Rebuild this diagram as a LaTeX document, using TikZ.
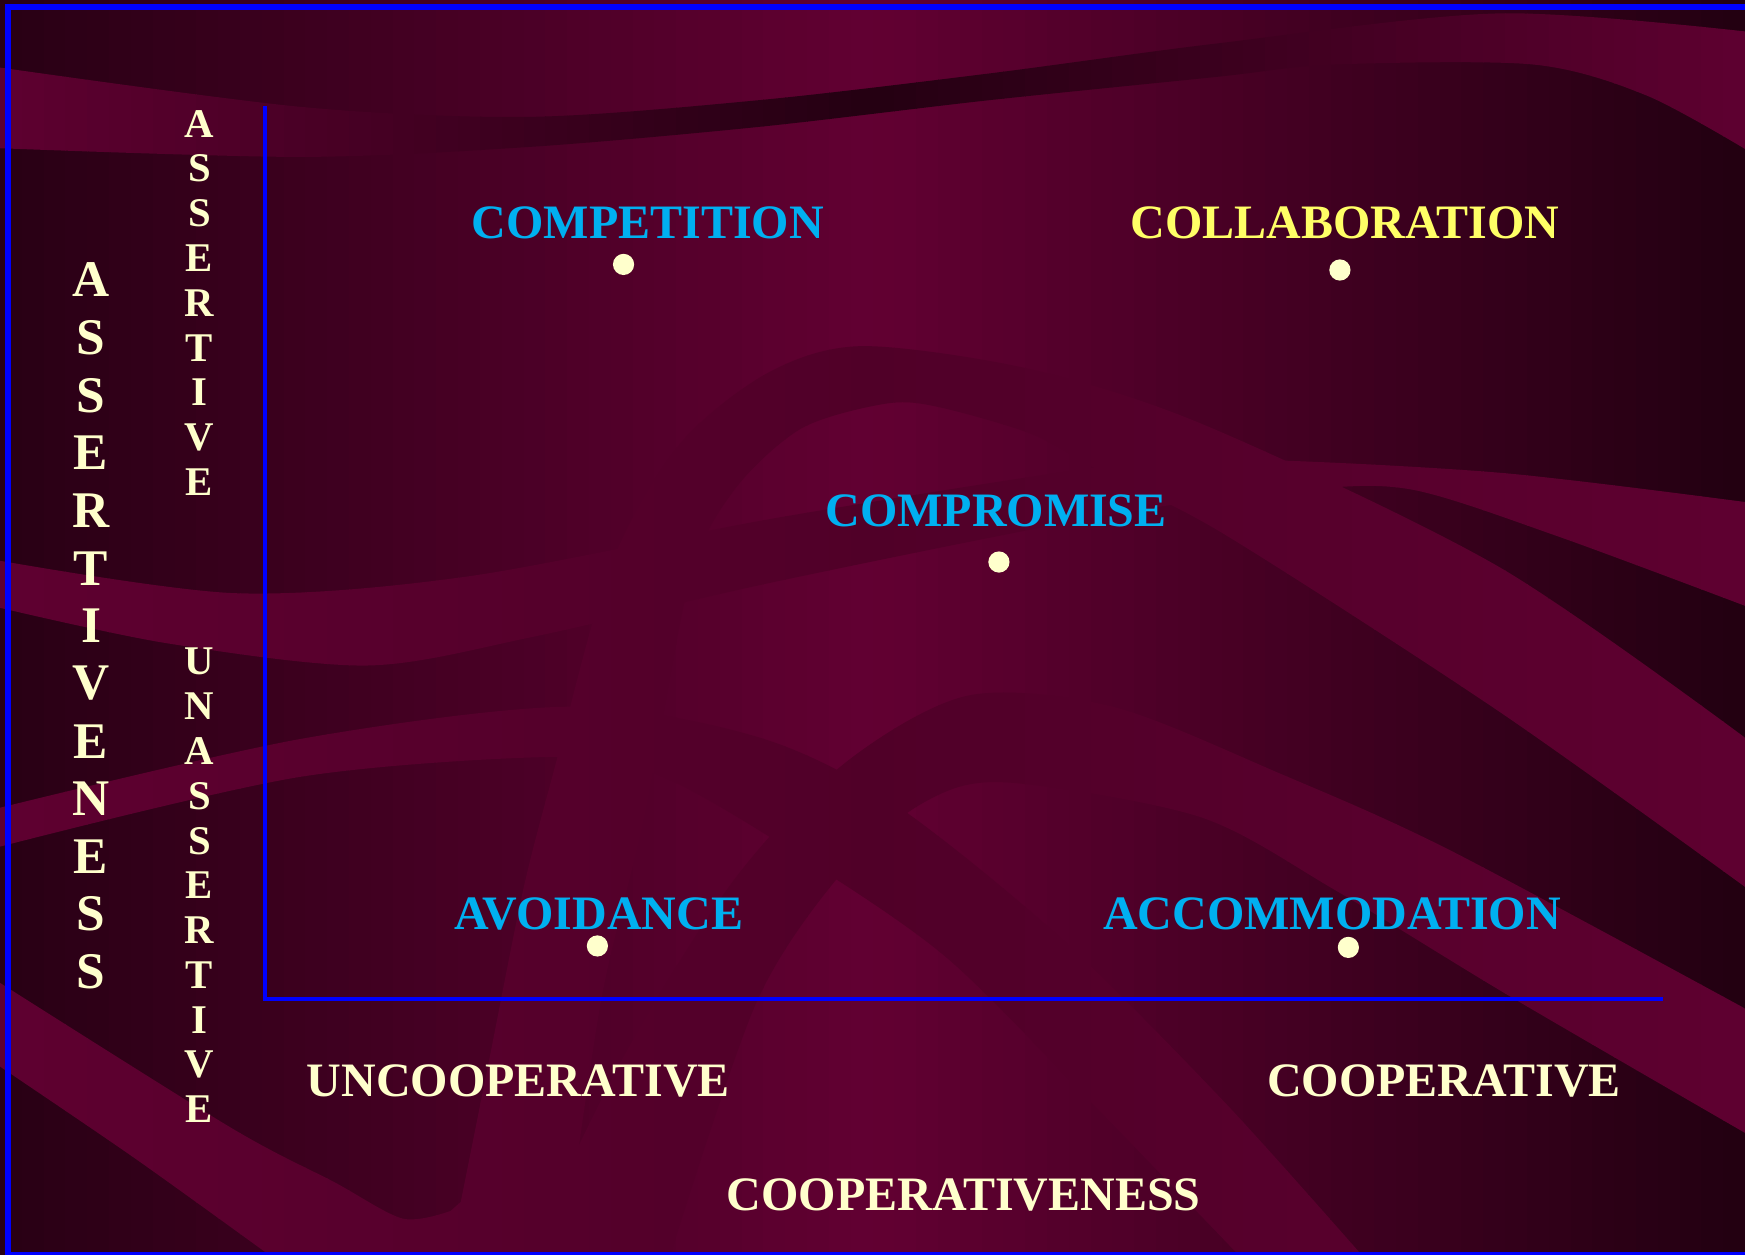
\documentclass[tikz,border=0pt]{standalone}
\usepackage{fontspec}
\setmainfont{Liberation Serif}
\definecolor{basel}{RGB}{40,0,20}
\definecolor{basem}{RGB}{98,0,50}
\definecolor{baser}{RGB}{34,0,17}
\definecolor{ribe}{RGB}{94,0,48}
\definecolor{ribm}{RGB}{80,0,40}
\definecolor{ribtop}{RGB}{36,0,18}
\definecolor{labcyan}{RGB}{0,176,240}
\definecolor{labyellow}{RGB}{255,255,102}
\definecolor{cream}{RGB}{255,255,204}
\definecolor{frameblue}{RGB}{0,0,255}
% horizontal gradient made of strips: #1 left colour, #2 middle colour, #3 right colour
\newcommand{\gradstrips}[3]{%
  \foreach \k in {0,...,39}{\pgfmathsetmacro{\pp}{(\k+0.5)*2.5}
    \fill[#2!\pp!#1] ({\k*19.6},-3) rectangle ({\k*19.6+20.2},1131);}
  \foreach \k in {0,...,39}{\pgfmathsetmacro{\pp}{(\k+0.5)*2.5}
    \fill[#3!\pp!#2] ({784+\k*19.6},-3) rectangle ({784+\k*19.6+20.2},1131);}}
\newcommand{\myribbon}[4]{\begin{scope}\clip #4; \gradstrips{#1}{#2}{#3}\end{scope}}
\tikzset{
  biglab/.style={font=\fontsize{24}{24}\selectfont\bfseries, inner sep=0pt},
  vlet/.style={font=\fontsize{25.7}{26}\selectfont\bfseries, text=cream, inner sep=0pt},
  slet/.style={font=\fontsize{20.4}{21}\selectfont\bfseries, text=cream, inner sep=0pt},
  pointdot/.style={circle, fill=cream, minimum size=10.6pt, inner sep=0pt},
  axisline/.style={draw=frameblue, line width=2.1pt},
  framebox/.style={draw=frameblue, line width=3pt}
}
\begin{document}
\begin{tikzpicture}[x=0.5565pt, y=-0.5565pt]
\useasboundingbox (0,0) rectangle (1568,1127);
% background
\begin{scope}
\clip (0,0) rectangle (1568,1127);
\gradstrips{basel}{basem}{baser}
% top ribbon
\myribbon{ribe}{ribtop}{ribe}{plot[smooth] coordinates {(-5,60) (270,96) (476,105) (682,90) (889,66) (1094,39) (1348,12) (1575,29)} -- plot[smooth] coordinates {(1575,138) (1480,86) (1378,58) (1198,58) (1094,69) (889,90) (682,114) (476,132) (270,141) (-5,133)} -- cycle}
% middle ribbon
\myribbon{ribe}{ribm}{ribe}{plot[smooth] coordinates {(-5,503) (211,533) (420,518) (700,465) (1000,418) (1123,413) (1350,425) (1575,452)} -- plot[smooth] coordinates {(1575,547) (1400,482) (1269,440) (1172,440) (1000,462) (700,522) (480,572) (330,598) (150,578) (-5,545)} -- cycle}
% upper arch
\myribbon{ribe}{ribm}{ribe}{plot[smooth] coordinates {(-5,880) (207,1013) (300,1062) (362,1095) (405,1088)} -- plot[smooth] coordinates {(414,1080) (440,950) (470,800) (497,695) (548,510) (610,400) (690,335) (775,311) (927,332) (1085,383) (1348,510) (1575,668)} -- plot[smooth] coordinates {(1575,802) (1348,640) (1100,480) (990,424) (927,390) (840,365) (794,363) (720,385) (660,440) (620,520) (579,734) (540,900) (505,1140)} -- (235,1140) -- plot[smooth] coordinates {(241,1127) (120,1040) (-5,955)} -- cycle}
% left band to bottom right
\myribbon{ribe}{ribm}{ribe}{plot[smooth] coordinates {(-5,727) (270,664) (512,635) (680,662) (800,720) (950,840) (1100,990) (1230,1135)} -- plot[smooth] coordinates {(1120,1135) (980,990) (850,860) (720,770) (600,700) (512,680) (270,698) (-5,762)} -- cycle}
% lower arch
\myribbon{ribe}{ribm}{ribe}{plot[smooth] coordinates {(470,1135) (560,950) (660,790) (760,685) (870,625) (1000,635) (1150,695) (1303,764) (1575,910)} -- plot[smooth] coordinates {(1575,1022) (1358,896) (1200,800) (1078,734) (904,703) (832,720) (760,780) (680,900) (600,1135)} -- cycle}
\end{scope}
% frame
\draw[framebox] (7.2,6.2) rectangle (1573,1127.5);
% axes
\coordinate (ytop) at (238.1,95.2);
\coordinate (orig) at (238.1,897.3);
\coordinate (xend) at (1494.2,897.3);
\draw[axisline] (ytop) -- (orig) -- (xend);
% vertical words
\foreach \ch [count=\i from 0] in {A,S,S,E,R,T,I,V,E,N,E,S,S}
  \node[vlet] (big\i) at (81.8,251.6+51.8*\i) {\ch};
\foreach \ch [count=\i from 0] in {A,S,S,E,R,T,I,V,E}
  \node[slet] (as\i) at (179.3,111+40.3*\i) {\ch};
\foreach \ch [count=\i from 0] in {U,N,A,S,S,E,R,T,I,V,E}
  \node[slet] (un\i) at (179.3,594.5+40.24*\i) {\ch};
% labels
\node[biglab, text=labcyan] (competition) at (582,200) {COMPETITION};
\node[biglab, text=labyellow] (collab) at (1208.6,200) {COLLABORATION};
\node[biglab, text=labcyan] (compromise) at (895,459) {COMPROMISE};
\node[biglab, text=labcyan] (avoid) at (538,821.5) {AVOIDANCE};
\node[biglab, text=labcyan] (accom) at (1197,821) {ACCOMMODATION};
\node[biglab, text=cream] (uncoop) at (465.8,971) {UNCOOPERATIVE};
\node[biglab, text=cream] (coop) at (1297.5,971) {COOPERATIVE};
\node[biglab, text=cream] (coopness) at (866,1074) {COOPERATIVENESS};
% dots
\node[pointdot] (dcompet) at (560.3,237.6) {};
\node[pointdot] (dcollab) at (1204,242.6) {};
\node[pointdot] (dcompro) at (897.6,505) {};
\node[pointdot] (davoid) at (536.8,850) {};
\node[pointdot] (daccom) at (1211.6,851.3) {};
\end{tikzpicture}
\end{document}
